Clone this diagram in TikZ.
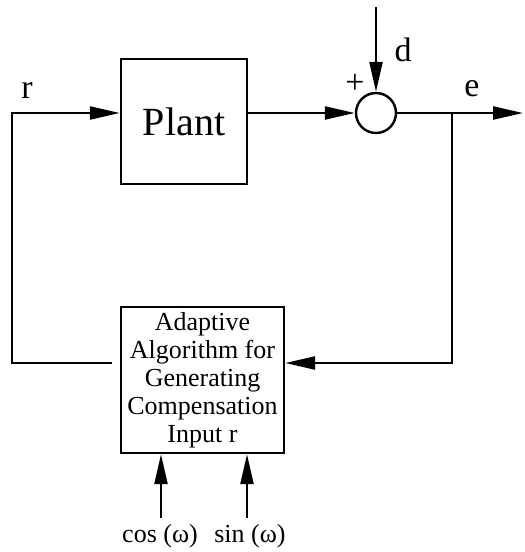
\documentclass[tikz,border=0pt]{standalone}
\usepackage{fontspec}
\setmainfont{Liberation Serif}
\usetikzlibrary{arrows.meta}

\begin{document}
\begin{tikzpicture}[x=0.5pt,y=-0.5pt,line width=1.2pt,
    >={Triangle[length=15pt,width=6.5pt]},
    block/.style={draw,rectangle,inner sep=0pt},
    lbl/.style={inner sep=0pt,font=\fontsize{17}{20}\selectfont}]
    \useasboundingbox (0,0) rectangle (525,552);

    % blocks
    \node[block,minimum width=63pt,minimum height=62.5pt,
          font=\fontsize{20}{24}\selectfont] (plant) at (184,121.5) {Plant};
    \node[block,minimum width=81.5pt,minimum height=73pt,align=center,
          font=\fontsize{13}{14}\selectfont] (adapt) at (202.5,380)
          {Adaptive\\Algorithm for\\Generating\\Compensation\\Input r};
    \node[draw,circle,minimum size=20pt,inner sep=0pt] (sum) at (376,113) {};

    % points on the lines
    \coordinate (rc) at (12,113);
    \coordinate (fbl) at (12,363);
    \coordinate (fbend) at (112,363);
    \coordinate (branch) at (452,113);
    \coordinate (fbr) at (452,363);
    \coordinate (eout) at (523,113);
    \coordinate (dtop) at (376,7);
    \coordinate (cosin) at (161,518);
    \coordinate (sinin) at (247,518);

    % connectors
    \draw[->] (fbend) -- (fbl) -- (rc) -- (plant.west |- rc);
    \draw[->] (plant.east |- sum) -- (sum.west);
    \draw[->] (dtop) -- (sum.north);
    \draw[->] (sum.east) -- (eout);
    \draw[->] (branch) -- (fbr) -- (adapt.east |- fbr);
    \draw[->] (cosin) -- (adapt.south -| cosin);
    \draw[->] (sinin) -- (adapt.south -| sinin);

    % labels
    \node[lbl] (rlbl) at (27,90) {r};
    \node[lbl] (elbl) at (472,89) {e};
    \node[lbl] (dlbl) at (403,50) {d};
    \node[lbl] (plus) at (355,84) {+};
    \node[lbl,font=\fontsize{13}{14}\selectfont] (coslbl) at (160,536) {cos (ω)};
    \node[lbl,font=\fontsize{13}{14}\selectfont] (sinlbl) at (250,536) {sin (ω)};
\end{tikzpicture}
\end{document}
